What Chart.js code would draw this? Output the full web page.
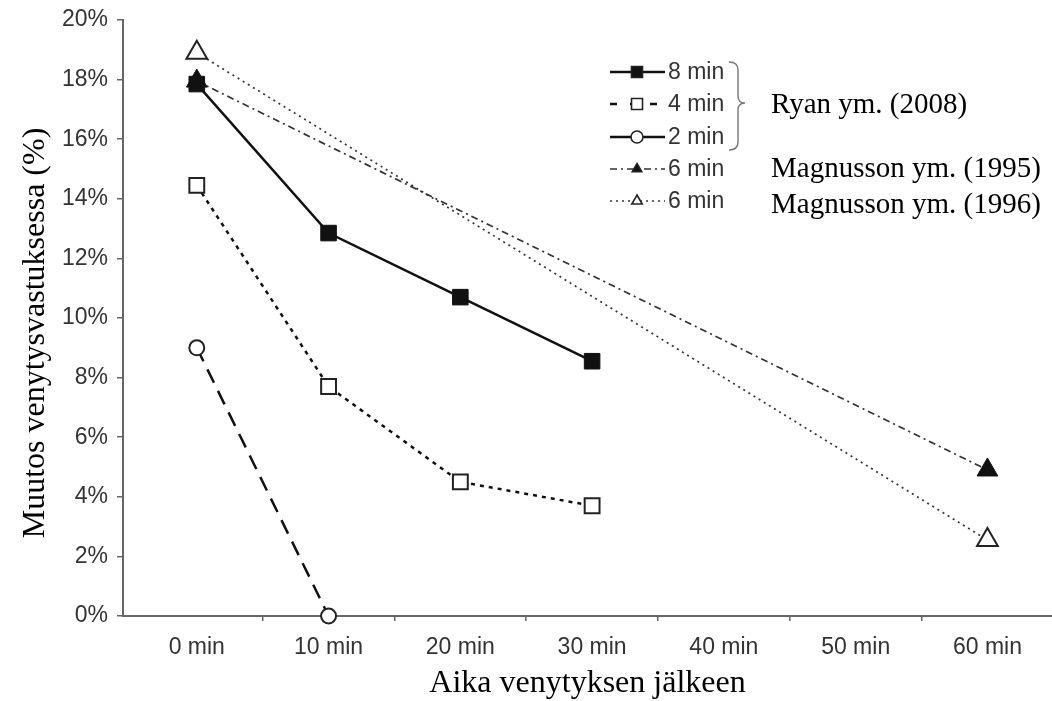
<!DOCTYPE html>
<html>
<head>
<meta charset="utf-8">
<script src="https://cdn.jsdelivr.net/npm/chart.js@4"></script>
<style>
  html, body { margin: 0; padding: 0; background: #fff; overflow: hidden; }
  #wrap { position: relative; width: 1052px; height: 701px; }
  #chart { display: block; }
</style>
</head>
<body>
<div id="wrap"><canvas id="chart"></canvas></div>
<script>
// time points after stretching
const categories = ['0 min', '10 min', '20 min', '30 min', '40 min', '50 min', '60 min'];
// Ryan et al. (2008)
const ryan8min = [17.85, 12.85, 10.7, 8.55, null, null, null];
const ryan4min = [14.45, 7.7, 4.5, 3.7, null, null, null];
const ryan2min = [9.0, 0, null, null, null, null, null];
// Magnusson et al.
const magnusson1995 = [17.95, null, null, null, null, null, 4.9];
const magnusson1996 = [18.9, null, null, null, null, null, 2.55];
const yTicks = [0, 2, 4, 6, 8, 10, 12, 14, 16, 18, 20];

const sans = '"Liberation Sans", Arial, sans-serif';
const serif = '"Liberation Serif", "Times New Roman", serif';

function toPoints(arr) {
    return arr.map((v, i) => ({ x: i, y: v })).filter(p => p.y !== null);
}

function drawMarker(ctx, style, filled, r, x, y) {
    ctx.save();
    ctx.beginPath();
    if (style === 'rect') {
        ctx.rect(x - r, y - r, 2 * r, 2 * r);
    } else if (style === 'circle') {
        ctx.arc(x, y, r, 0, Math.PI * 2);
    } else {
        ctx.moveTo(x, y - r);
        ctx.lineTo(x + r * 0.87, y + r * 0.5);
        ctx.lineTo(x - r * 0.87, y + r * 0.5);
        ctx.closePath();
    }
    ctx.setLineDash([]);
    ctx.fillStyle = filled ? '#111' : '#fff';
    ctx.fill();
    ctx.lineWidth = 1.6;
    ctx.strokeStyle = '#222';
    ctx.stroke();
    ctx.restore();
}

// legend rows at the top right, the brace, source labels and the y title
const legendPlugin = {
    id: 'sideLegend',
    afterDraw(chart) {
        const ctx = chart.ctx;
        const rows = [
            { ds: 0, y: 72, marker: 'rect', filled: true, r: 5.5 },
            { ds: 1, y: 104, marker: 'rect', filled: false, r: 5.5 },
            { ds: 2, y: 137, marker: 'circle', filled: false, r: 6 },
            { ds: 3, y: 169, marker: 'triangle', filled: true, r: 5.5 },
            { ds: 4, y: 201, marker: 'triangle', filled: false, r: 6 }
        ];
        rows.forEach(row => {
            const ds = chart.data.datasets[row.ds];
            ctx.save();
            ctx.strokeStyle = ds.borderColor;
            ctx.lineWidth = ds.borderWidth;
            ctx.setLineDash(ds.legendDash || ds.borderDash || []);
            ctx.beginPath();
            ctx.moveTo(610, row.y);
            ctx.lineTo(665, row.y);
            ctx.stroke();
            ctx.restore();
            drawMarker(ctx, row.marker, row.filled, row.r, 637, row.y);
            ctx.save();
            ctx.fillStyle = '#333';
            ctx.font = '23px ' + sans;
            ctx.textBaseline = 'middle';
            ctx.fillText(ds.label, 668, row.y + 1);
            ctx.restore();
        });

        // brace for Ryan
        ctx.save();
        ctx.strokeStyle = '#777';
        ctx.lineWidth = 1.4;
        ctx.beginPath();
        ctx.moveTo(729, 62);
        ctx.quadraticCurveTo(738, 62, 738, 70);
        ctx.lineTo(738, 96);
        ctx.quadraticCurveTo(738, 103, 745, 103);
        ctx.quadraticCurveTo(738, 103, 738, 110);
        ctx.lineTo(738, 142);
        ctx.quadraticCurveTo(738, 150, 729, 150);
        ctx.stroke();

        ctx.fillStyle = '#000';
        ctx.font = '29px ' + serif;
        ctx.textBaseline = 'alphabetic';
        ctx.fillText('Ryan ym. (2008)', 771, 113);
        ctx.fillText('Magnusson ym. (1995)', 771, 177);
        ctx.fillText('Magnusson ym. (1996)', 771, 213);

        // y axis title
        ctx.translate(44, 333);
        ctx.rotate(-Math.PI / 2);
        ctx.textAlign = 'center';
        ctx.font = '32px ' + serif;
        ctx.fillText('Muutos venytysvastuksessa (%)', 0, 0);
        ctx.restore();
    }
};

new Chart(document.getElementById('chart').getContext('2d'), {
    type: 'line',
    data: {
        datasets: [
            {
                label: '8 min',
                data: toPoints(ryan8min),
                borderColor: '#111',
                borderWidth: 2.5,
                pointStyle: 'rect',
                pointRadius: 11,
                pointBackgroundColor: '#111',
                pointBorderColor: '#111',
                pointBorderWidth: 1,
                order: 1,
                clip: false
            },
            {
                label: '4 min',
                data: toPoints(ryan4min),
                borderColor: '#111',
                borderWidth: 2.5,
                borderDash: [4, 5],
                legendDash: [7, 13],
                pointStyle: 'rect',
                pointRadius: 10.5,
                pointBackgroundColor: '#fff',
                pointBorderColor: '#222',
                pointBorderWidth: 2,
                order: 2,
                clip: false
            },
            {
                label: '2 min',
                data: toPoints(ryan2min),
                borderColor: '#111',
                borderWidth: 2.5,
                borderDash: [15, 9],
                legendDash: [],
                pointStyle: 'circle',
                pointRadius: 7.5,
                pointBackgroundColor: '#fff',
                pointBorderColor: '#222',
                pointBorderWidth: 2,
                order: 3,
                clip: false
            },
            {
                label: '6 min',
                data: toPoints(magnusson1995),
                borderColor: '#333',
                borderWidth: 1.7,
                borderDash: [7, 4, 2, 4],
                pointStyle: 'triangle',
                pointRadius: 12,
                pointBackgroundColor: '#111',
                pointBorderColor: '#111',
                pointBorderWidth: 1,
                order: 5,
                clip: false
            },
            {
                label: '6 min',
                data: toPoints(magnusson1996),
                borderColor: '#333',
                borderWidth: 1.7,
                borderDash: [2, 4],
                pointStyle: 'triangle',
                pointRadius: 12,
                pointBackgroundColor: '#fff',
                pointBorderColor: '#222',
                pointBorderWidth: 2,
                order: 4,
                clip: false
            }
        ]
    },
    plugins: [legendPlugin],
    options: {
        responsive: true,
        maintainAspectRatio: false,
        animation: false,
        layout: { autoPadding: false, padding: { top: 20, right: 0, left: 0, bottom: 0 } },
        elements: { line: { tension: 0, fill: false } },
        plugins: {
            legend: { display: false },
            tooltip: { enabled: false }
        },
        scales: {
            x: {
                type: 'linear',
                min: -0.56,
                max: 6.49,
                afterBuildTicks: function(scale) {
                    scale.ticks = categories.map((c, i) => ({ value: i }));
                },
                afterFit: function(scale) {
                    scale.height = 85;
                    scale.paddingLeft = 0;
                    scale.paddingRight = 0;
                },
                grid: {
                    offset: true,
                    drawOnChartArea: false,
                    tickLength: 5,
                    color: function(ctx) {
                        return ctx.index === 0 ? 'rgba(0,0,0,0)' : '#666';
                    },
                    lineWidth: 1.5
                },
                border: { color: '#666', width: 2 },
                ticks: {
                    autoSkip: false,
                    maxRotation: 0,
                    padding: 13,
                    color: '#333',
                    font: { family: sans, size: 23 },
                    callback: function(value) { return categories[value]; }
                },
                title: {
                    display: true,
                    text: 'Aika venytyksen jälkeen',
                    color: '#000',
                    font: { family: serif, size: 32, lineHeight: 1.1 },
                    padding: { top: 0, bottom: 0 }
                }
            },
            y: {
                min: 0,
                max: 20,
                afterBuildTicks: function(scale) {
                    scale.ticks = yTicks.map(v => ({ value: v }));
                },
                afterFit: function(scale) {
                    scale.width = 123;
                    scale.paddingTop = 0;
                    scale.paddingBottom = 0;
                },
                grid: {
                    drawOnChartArea: false,
                    tickLength: 6,
                    color: '#666',
                    lineWidth: 1.5
                },
                border: { color: '#666', width: 2 },
                ticks: {
                    padding: 9,
                    color: '#333',
                    font: { family: sans, size: 23 },
                    callback: function(value) { return value + '%'; }
                }
            }
        }
    }
});
</script>
</body>
</html>
